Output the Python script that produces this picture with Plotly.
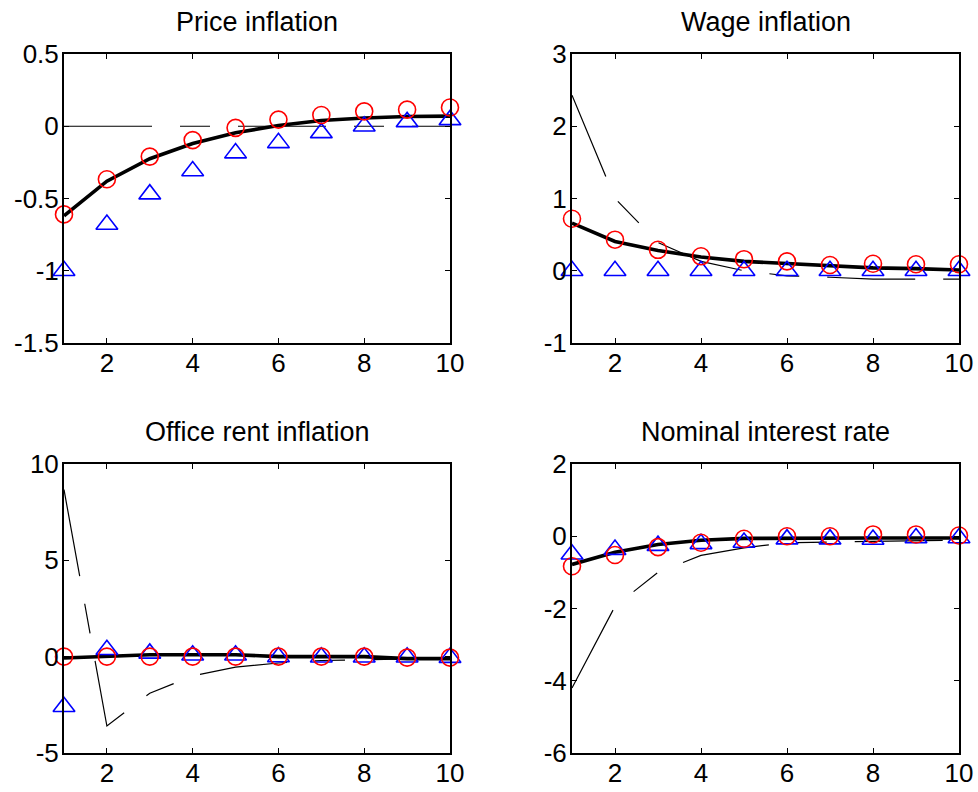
import plotly.graph_objects as go

periods = [1, 2, 3, 4, 5, 6, 7, 8, 9, 10]
titles = ["Price inflation", "Wage inflation", "Office rent inflation", "Nominal interest rate"]

# Price inflation
price_dashed = [0.0, 0.0, 0.0, 0.0, 0.0, 0.0, 0.0, 0.0, 0.0, 0.0]
price_thick = [-0.62, -0.38, -0.225, -0.12, -0.045, 0.005, 0.04, 0.057, 0.067, 0.07]
price_circles = [-0.61, -0.367, -0.21, -0.096, -0.011, 0.046, 0.078, 0.103, 0.115, 0.13]
price_triangles = [-1.0, -0.68, -0.47, -0.31, -0.186, -0.115, -0.046, 0.0, 0.03, 0.044]

# Wage inflation
wage_dashed = [2.43, 1.0, 0.39, 0.13, 0.0, -0.07, -0.09, -0.115, -0.115, -0.115]
wage_thick = [0.66, 0.405, 0.28, 0.19, 0.13, 0.1, 0.07, 0.04, 0.03, 0.01]
wage_circles = [0.72, 0.43, 0.29, 0.2, 0.16, 0.13, 0.08, 0.097, 0.09, 0.09]
wage_triangles = [0.0, 0.0, 0.0, 0.0, 0.0, 0.0, 0.0, 0.0, 0.0, 0.0]

# Office rent inflation
rent_dashed = [8.67, -3.6, -1.9, -1.0, -0.54, -0.33, -0.2, -0.15, -0.12, -0.1]
rent_thick = [-0.07, 0.02, 0.1, 0.1, 0.1, 0.0, 0.0, 0.0, -0.1, -0.1]
rent_circles = [0.0, 0.0, 0.0, 0.0, 0.0, 0.0, 0.0, 0.0, -0.05, -0.05]
rent_triangles = [-2.6, 0.36, 0.17, 0.07, 0.07, -0.02, -0.03, -0.03, -0.03, -0.05]

# Nominal interest rate
rate_dashed = [-4.2, -1.94, -1.0, -0.53, -0.32, -0.18, -0.16, -0.15, -0.12, -0.11]
rate_thick = [-0.78, -0.44, -0.23, -0.11, -0.06, -0.05, -0.05, -0.05, -0.05, -0.05]
rate_circles = [-0.83, -0.52, -0.3, -0.18, -0.07, 0.0, 0.0, 0.05, 0.05, 0.02]
rate_triangles = [-0.5, -0.37, -0.26, -0.21, -0.175, -0.08, -0.08, -0.09, -0.05, -0.05]

x_ticks = [2, 4, 6, 8, 10]
y_ticks = [
    [-1.5, -1, -0.5, 0, 0.5],
    [-1, 0, 1, 2, 3],
    [-5, 0, 5, 10],
    [-6, -4, -2, 0, 2],
]
y_ticktext = [
    ["-1.5", "-1", "-0.5", "0", "0.5"],
    ["-1", "0", "1", "2", "3"],
    ["-5", "0", "5", "10"],
    ["-6", "-4", "-2", "0", "2"],
]

panels = [
    (price_dashed, price_thick, price_circles, price_triangles),
    (wage_dashed, wage_thick, wage_circles, wage_triangles),
    (rent_dashed, rent_thick, rent_circles, rent_triangles),
    (rate_dashed, rate_thick, rate_circles, rate_triangles),
]

# body margin is removed by post_script, so the figure fills the window
W, H = 978, 792


def px_x(p):
    return p / W


def px_y(p):
    return 1 - p / H


x_doms = [[px_x(64), px_x(450)], [px_x(572), px_x(959)]]
y_doms = [[px_y(343), px_y(54)], [px_y(753), px_y(464)]]
title_y = [px_y(22), px_y(432)]

FONT = "Liberation Sans, Arial, sans-serif"
TICK_SIZE = 26
TITLE_SIZE = 27
fig = go.Figure()
layout = dict(
    width=W, height=H,
    margin=dict(l=0, r=0, t=0, b=0, autoexpand=False),
    paper_bgcolor="white", plot_bgcolor="white",
    showlegend=False,
    font=dict(family=FONT, size=TICK_SIZE, color="black"),
    annotations=[],
)

for i, (dashed, thick, circ, tri) in enumerate(panels):
    row, col = divmod(i, 2)
    sfx = "" if i == 0 else str(i + 1)
    xa, ya = "x" + sfx, "y" + sfx
    fig.add_trace(go.Scatter(x=periods, y=dashed, mode="lines", xaxis=xa, yaxis=ya,
                             line=dict(color="black", width=1.2, dash="88px,28px,30px,28px")))
    fig.add_trace(go.Scatter(x=periods, y=thick, mode="lines", xaxis=xa, yaxis=ya,
                             line=dict(color="black", width=3.6)))
    fig.add_trace(go.Scatter(x=periods, y=tri, mode="markers", xaxis=xa, yaxis=ya, cliponaxis=False,
                             marker=dict(symbol="triangle-up-open", size=19, color="blue",
                                         line=dict(color="blue", width=1.6))))
    fig.add_trace(go.Scatter(x=periods, y=circ, mode="markers", xaxis=xa, yaxis=ya, cliponaxis=False,
                             marker=dict(symbol="circle-open", size=17, color="red",
                                         line=dict(color="red", width=1.6))))
    common = dict(showline=True, linecolor="black", linewidth=2, mirror="ticks",
                  ticks="inside", ticklen=5, tickwidth=1.2, tickcolor="black", automargin=False,
                  showgrid=False, zeroline=False, ticklabeloverflow="allow",
                  tickfont=dict(family=FONT, size=TICK_SIZE, color="black"))
    layout["xaxis" + sfx] = dict(domain=x_doms[col], range=[1, 10], tickvals=x_ticks,
                                 ticktext=[str(v) for v in x_ticks], anchor=ya,
                                 ticklabelstandoff=-4, **common)
    layout["yaxis" + sfx] = dict(domain=y_doms[row], range=[y_ticks[i][0], y_ticks[i][-1]],
                                 tickvals=y_ticks[i], ticktext=y_ticktext[i], anchor=xa,
                                 ticklabelstandoff=-2, **common)
    layout["annotations"].append(dict(text=titles[i], xref="paper", yref="paper",
                                      x=sum(x_doms[col]) / 2, y=title_y[row], xanchor="center",
                                      yanchor="middle", showarrow=False,
                                      font=dict(family=FONT, size=TITLE_SIZE, color="black")))

fig.update_layout(**layout)
fig.write_html("out.html", config={"displayModeBar": False},
               post_script="document.body.style.margin='0';document.body.style.overflow='hidden';")
